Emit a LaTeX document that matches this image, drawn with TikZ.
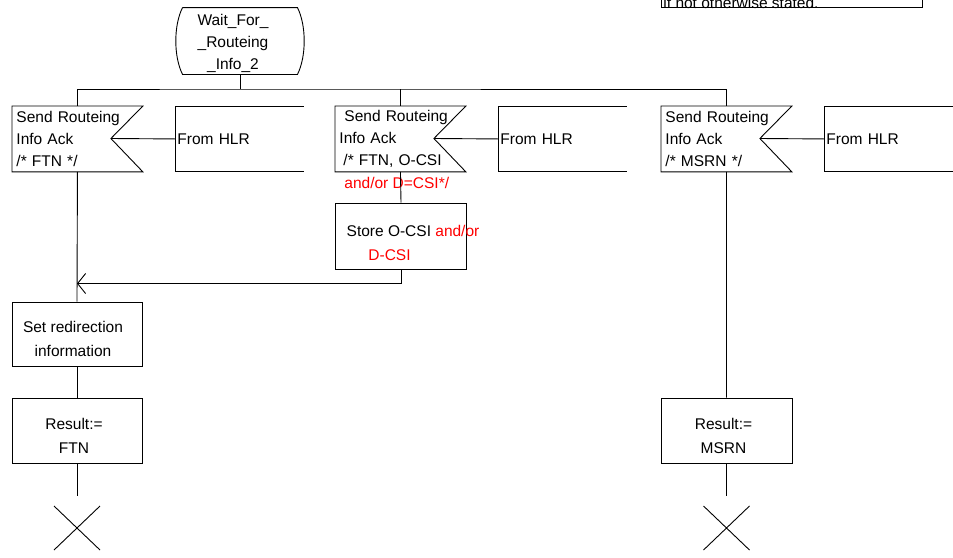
\documentclass[tikz,border=0pt]{standalone}
\usepackage{fontspec}
\setmainfont{Liberation Sans}
\usetikzlibrary{arrows.meta}

\tikzset{
  every node/.style={font=\fontsize{15.5}{22}\selectfont, inner sep=0pt},
  sigbox/.style={anchor=north west, minimum width=130, minimum height=65,
    text width=122, align=left, inner xsep=4},
  hlrbox/.style={anchor=north west, minimum width=128, minimum height=65,
    text width=124, align=left, inner xsep=2},
  taskbox/.style={draw, minimum width=130, minimum height=65},
  tasktxt/.style={align=center, font=\fontsize{15.5}{24}\selectfont, yshift=-5pt},
  redtxt/.style={text=red}
}

\begin{document}
\begin{tikzpicture}[x=1pt, y=-1pt, line width=0.9pt]
\useasboundingbox (0,0) rectangle (953,557);

% note box, cut off at the top
\draw (661,-40) rectangle (922,7.5);
\node [anchor=base west] (note) at (663,8) {if not otherwise stated.};

% state
\node [minimum width=114, minimum height=66] (wait) at (240,41) {};
\node [align=center] at (233,43) {Wait\_For\_\\\_Routeing\\\_Info\_2};
\draw (wait.north west) -- (wait.north east)
  .. controls +(9,18) and +(9,-18) .. (wait.south east) -- (wait.south west)
  .. controls +(-9,-18) and +(-9,18) .. (wait.north west);
\coordinate (fork) at (240,89);

% input signals
\node [sigbox] (sig1) at (12,106) {Send Routeing\\Info Ack\\/* FTN */};
\node [sigbox] (sig2) at (335,106) {\hspace{5pt}Send Routeing\\Info Ack\\\hspace{4pt}/* FTN, O-CSI};
\node [sigbox] (sig3) at (661,106) {Send Routeing\\Info Ack\\/* MSRN */};
\foreach \s in {1,2,3}
  \draw (sig\s.north west) -- (sig\s.north east) -- ++(-32,32.5) coordinate (n\s)
    -- (sig\s.south east) -- (sig\s.south west) -- cycle;
\node [redtxt, anchor=west] (sig2red) at (344,183) {and/or D=CSI*/};

% from HLR
\node [hlrbox] (hlr1) at (175,106) {From HLR};
\node [hlrbox] (hlr2) at (498,106) {From HLR};
\node [hlrbox] (hlr3) at (824,106) {From HLR};
\foreach \s in {1,2,3} {
  \draw (hlr\s.north east) -- (hlr\s.north west) -- (hlr\s.south west) -- (hlr\s.south east);
  \draw (n\s) -- (hlr\s.west);
}

% tasks
\node [taskbox, minimum width=131, minimum height=66] (store) at (401,236) {};
\node [tasktxt, xshift=12pt, yshift=-2pt] at (store)
  {Store O-CSI \textcolor{red}{and/or}\\\textcolor{red}{D-CSI}\hspace{47pt}\mbox{}};
\node [taskbox, minimum height=64] (setred) at (77,334) {};
\node [tasktxt, xshift=-4pt] at (setred) {Set redirection\\information};
\node [taskbox] (res1) at (77,430.5) {};
\node [tasktxt, xshift=-3pt] at (res1) {Result:=\\FTN};
\node [taskbox, minimum width=131] (res2) at (726.5,430.5) {};
\node [tasktxt, xshift=-3pt] at (res2) {Result:=\\MSRN};
\coordinate (merge) at (77,283.5);
\coordinate (end1) at (77,496);
\coordinate (end2) at (726.5,496);

% connections
\draw (wait.south) -- (fork);
\draw (sig1.north) |- (fork) -| (sig3.north);
\draw (fork -| sig2.north) -- (sig2.north);
\draw (sig2.south) -- (store.north);
\draw (sig1.south) -- (setred.north);
\draw [-{Straight Barb[length=8pt, width=20pt]}] (store.south) |- (merge);
\draw (setred.south) -- (res1.north);
\draw (res1.south) -- (end1);
\draw (sig3.south) -- (res2.north);
\draw (res2.south) -- (end2);

% stops
\foreach \e in {1,2}
  \draw (end\e) ++(0,32) +(-23,-22) -- +(23,22) +(-23,22) -- +(23,-22);
\end{tikzpicture}
\end{document}
